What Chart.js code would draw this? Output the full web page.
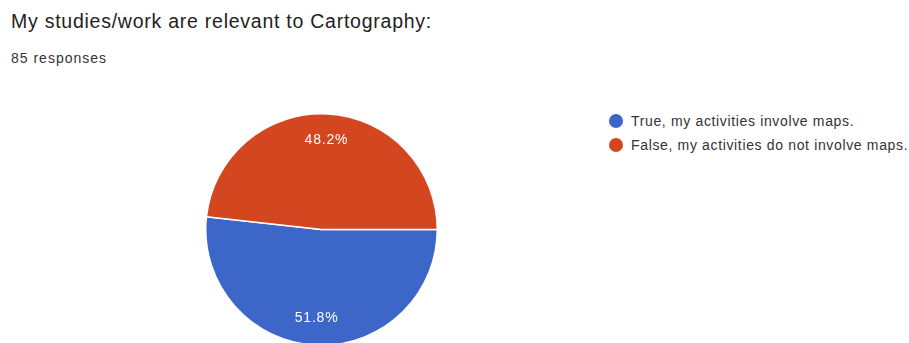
<!DOCTYPE html>
<html>
<head>
<meta charset="utf-8">
<script src="https://cdn.jsdelivr.net/npm/chart.js@4"></script>
<style>
  html, body { margin: 0; padding: 0; background: #fff; width: 909px; height: 343px; overflow: hidden; font-family: "Liberation Sans", Arial, sans-serif; }
  #title { position: absolute; left: 11px; top: 10px; font-size: 19.5px; letter-spacing: 0.75px; color: #222; }
  #sub { position: absolute; left: 11px; top: 50px; font-size: 14px; letter-spacing: 1px; color: #333; }
  #pieBox { position: absolute; left: 205px; top: 113px; width: 233px; height: 233px; }
  #legend { position: absolute; left: 609px; top: 111px; font-size: 14px; letter-spacing: 0.65px; color: #333; }
  #legend div { height: 24px; line-height: 20px; white-space: nowrap; }
  #legend span { display: inline-block; width: 14px; height: 14px; border-radius: 50%; vertical-align: -2px; margin-right: 8px; }
</style>
</head>
<body>
<div id="title">My studies/work are relevant to Cartography:</div>
<div id="sub">85 responses</div>
<div id="pieBox"><canvas id="pie"></canvas></div>
<div id="legend"></div>
<script>
const labels = ["True, my activities involve maps.", "False, my activities do not involve maps."];
const counts = [44, 41];
const colors = ["#3d66c9", "#d3461f"];

const legend = document.getElementById("legend");
labels.forEach(function (l, i) {
  const row = document.createElement("div");
  row.innerHTML = '<span style="background:' + colors[i] + '"></span>' + l;
  legend.appendChild(row);
});

// percentage text inside each slice
const sliceLabels = {
  id: "sliceLabels",
  afterDatasetsDraw(chart) {
    const ctx = chart.ctx;
    const meta = chart.getDatasetMeta(0);
    const total = counts.reduce((a, b) => a + b, 0);
    ctx.save();
    ctx.fillStyle = "#fff";
    ctx.font = "14px 'Liberation Sans', Arial, sans-serif";
    ctx.letterSpacing = "0.8px";
    ctx.textAlign = "center";
    ctx.textBaseline = "middle";
    meta.data.forEach(function (arc, i) {
      const mid = (arc.startAngle + arc.endAngle) / 2;
      const r = arc.outerRadius * 0.77;
      const pct = (counts[i] / total * 100).toFixed(1) + "%";
      ctx.fillText(pct, arc.x + Math.cos(mid) * r, arc.y + Math.sin(mid) * r);
    });
    ctx.restore();
  }
};

new Chart(document.getElementById("pie"), {
  type: "pie",
  data: {
    labels: labels,
    datasets: [{
      data: counts,
      backgroundColor: colors,
      borderColor: "#fff",
      borderWidth: 1.5
    }]
  },
  options: {
    responsive: true,
    maintainAspectRatio: false,
    animation: false,
    rotation: 90,
    layout: { padding: 0 },
    plugins: { legend: { display: false }, tooltip: { enabled: false } }
  },
  plugins: [sliceLabels]
});
</script>
</body>
</html>
